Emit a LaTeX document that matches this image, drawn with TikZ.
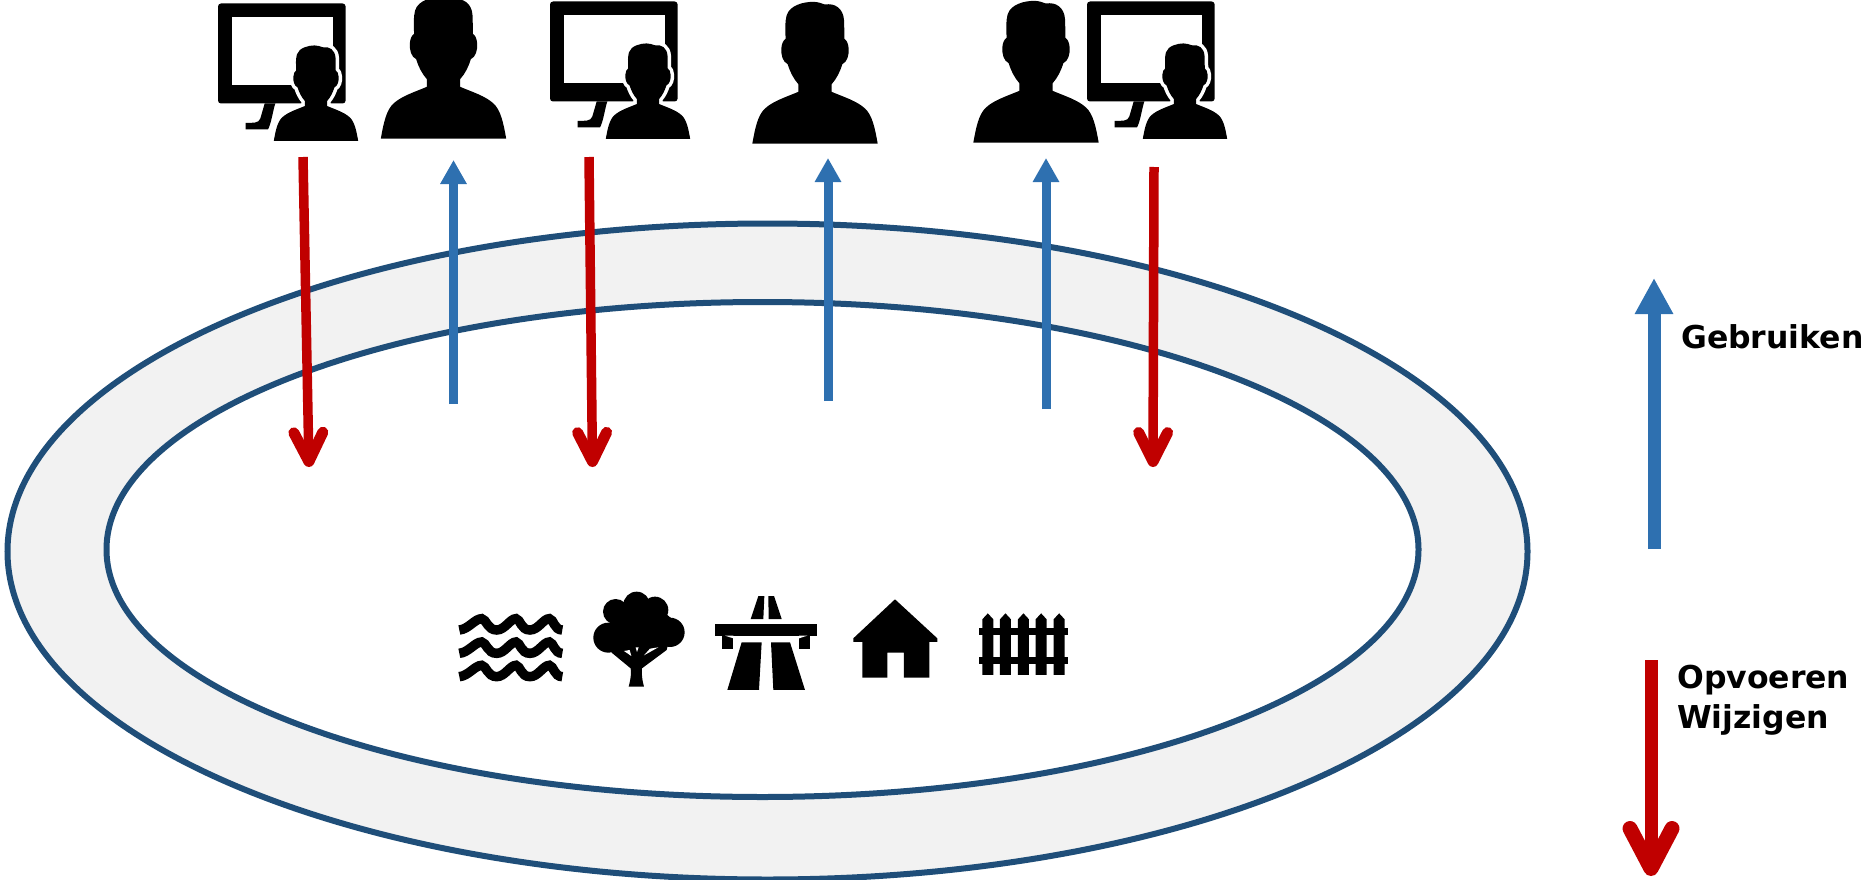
\documentclass[tikz,border=0pt]{standalone}
\usepackage{fontspec}
\setmainfont{DejaVu Sans}
\usetikzlibrary{arrows.meta}
\definecolor{ringline}{HTML}{1F4E79}
\definecolor{ringfill}{HTML}{F2F2F2}
\definecolor{usearrow}{HTML}{2E70B0}
\definecolor{editarrow}{HTML}{C00000}
\newcommand\personshape{(-188,0) .. controls (-180,-45) and (-172,-85) .. (-150,-105)
      .. controls (-125,-128) and (-85,-140) .. (-50,-155) -- (-50,-178)
      .. controls (-65,-195) and (-75,-215) .. (-82,-238)
      .. controls (-97,-245) and (-102,-265) .. (-101,-285)
      .. controls (-100,-300) and (-95,-310) .. (-88,-314)
      .. controls (-90,-345) and (-90,-365) .. (-85,-385)
      .. controls (-75,-415) and (-35,-425) .. (-5,-425)
      .. controls (10,-425) and (20,-420) .. (30,-417)
      .. controls (60,-422) and (85,-405) .. (87,-370)
      .. controls (88,-350) and (88,-330) .. (88,-314)
      .. controls (95,-310) and (100,-300) .. (101,-285)
      .. controls (102,-265) and (97,-245) .. (82,-238)
      .. controls (75,-215) and (65,-195) .. (50,-178) -- (50,-155)
      .. controls (85,-140) and (125,-128) .. (150,-105)
      .. controls (172,-85) and (180,-45) .. (188,0) -- cycle}
\tikzset{
  ring/.style={draw=ringline,line width=6pt},
  usearr/.style={draw=usearrow,line width=9pt,-{Triangle[length=24pt,width=25pt]}},
  editarr/.style={draw=editarrow,line width=9.5pt,-{Straight Barb[round,length=29pt,width=29pt,line width=11pt]}},
  legendtext/.style={font=\bfseries\fontsize{31.5}{40}\selectfont,inner sep=0pt,anchor=base west,align=left},
  icon/.style={x=0.3333pt,y=-0.3333pt},
  person/.pic={
    \fill[black] \personshape;
  },
  screenuser/.pic={
    \fill[black,rounded corners=3pt] (0,0) rectangle (383,300);
    \fill[white] (42,42) rectangle (345,245);
    \fill[black] (140,300) -- (172,300) .. controls (165,320) and (160,360) .. (150,378)
      -- (83,378) -- (83,358) .. controls (105,358) and (122,360) .. (127,345) -- cycle;
    \begin{scope}[shift={(294,412)},x=0.6733*0.3333pt,y=-0.6733*0.3333pt]
      \filldraw[draw=white,fill=black,line width=7pt,line join=round] \personshape;
      \fill[black] \personshape;
    \end{scope}
  }
}
\begin{document}
\begin{tikzpicture}[x=1pt,y=-1pt]
\useasboundingbox (0,0) rectangle (1862,880);
\clip (0,0) rectangle (1862,880);
% ring
\draw[ring,fill=ringfill] (767.5,551.5) ellipse [x radius=760,y radius=328];
\draw[ring,fill=white] (762.5,549.5) ellipse [x radius=656,y radius=247.5];
% users
\begin{scope}[shift={(218,3.5)},icon] \path pic {screenuser}; \end{scope}
\begin{scope}[shift={(550,1.5)},icon] \path pic {screenuser}; \end{scope}
\begin{scope}[shift={(1087,1.5)},icon] \path pic {screenuser}; \end{scope}
\begin{scope}[shift={(443.5,138.5)},icon] \path pic {person}; \end{scope}
\begin{scope}[shift={(815,143.5)},icon] \path pic {person}; \end{scope}
\begin{scope}[shift={(1036,142.5)},icon] \path pic {person}; \end{scope}
% connector ends
\coordinate (r1a) at (303,157); \coordinate (r1b) at (309,467);
\coordinate (r2a) at (589,157); \coordinate (r2b) at (592.5,467);
\coordinate (r3a) at (1154,167); \coordinate (r3b) at (1153,467);
\coordinate (b1a) at (453.5,404); \coordinate (b1b) at (453.5,160);
\coordinate (b2a) at (828,401); \coordinate (b2b) at (828,158);
\coordinate (b3a) at (1046,409); \coordinate (b3b) at (1046,158);
\coordinate (lba) at (1654,549); \coordinate (lbb) at (1654,278);
\coordinate (lra) at (1651,660); \coordinate (lrb) at (1651,876);
\draw[editarr] (r1a) -- (r1b);
\draw[editarr] (r2a) -- (r2b);
\draw[editarr] (r3a) -- (r3b);
\draw[usearr] (b1a) -- (b1b);
\draw[usearr] (b2a) -- (b2b);
\draw[usearr] (b3a) -- (b3b);
\draw[usearr,line width=13pt,-{Triangle[length=36pt,width=36pt]}] (lba) -- (lbb);
\draw[editarr,line width=13pt,-{Straight Barb[round,length=40pt,width=42pt,line width=15pt]}] (lra) -- (lrb);
% legend
\node[legendtext] (tuse) at (1681,348) {Gebruiken};
\node[legendtext] (tedit) at (1677,728) {Opvoeren\\Wijzigen};
% water
\begin{scope}[shift={(440,570)},icon]
  \foreach \dy in {0,70,140}{
    \begin{scope}[yshift=-\dy*0.3333pt]
    \draw[black,line width=9.5pt] (58,180) .. controls (85,178) and (105,146) .. (125,146)
      .. controls (140,148) and (142,180) .. (170,180)
      .. controls (195,180) and (210,146) .. (228,146)
      .. controls (242,148) and (242,180) .. (270,180)
      .. controls (295,180) and (310,146) .. (328,146)
      .. controls (342,148) and (342,180) .. (367,180);
    \end{scope}
  }
  % tree
  \fill[black] (505,203) circle [radius=45];
  \fill[black] (527,125) circle [radius=38];
  \fill[black] (590,105) circle [radius=40];
  \fill[black] (645,120) circle [radius=40];
  \fill[black] (690,187) circle [radius=44];
  \fill[black] (510,165) -- (560,100) -- (640,100) -- (700,150) -- (690,225) -- (520,235) -- cycle;
  \fill[black] (566,350) -- (612,350) .. controls (605,325) and (605,305) .. (606,295) -- (680,240) -- (690,200) -- (520,200) -- (515,248) -- (572,295) .. controls (574,305) and (573,325) .. (566,350) -- cycle;
  \fill[white] (574,258) -- (569,240) -- (552,243) -- cycle;
  \fill[white] (591,246) -- (587,232) -- (596,232) -- cycle;
  \fill[white] (612,256) -- (630,236) -- (655,232) -- cycle;
\end{scope}
\begin{scope}[shift={(700,570)},icon]
  % motorway
  \fill[black] (175,78) -- (193,78) -- (190,147) -- (152,147) -- cycle;
  \fill[black] (205,78) -- (222,78) -- (245,147) -- (206,147) -- cycle;
  \fill[black] (46,162) rectangle (350,197);
  \fill[black] (67,197) rectangle (100,236);
  \fill[black] (297,197) rectangle (330,236);
  \fill[white] (75,197) -- (100,197) -- (100,205) -- cycle;
  \fill[white] (297,197) -- (322,197) -- (297,205) -- cycle;
  \fill[black] (125,217) -- (185,217) -- (177,360) -- (82,360) -- cycle;
  \fill[black] (213,217) -- (270,217) -- (315,360) -- (220,360) -- cycle;
  % house
  \fill[black] (585,88) -- (712,205) -- (712,216) -- (688,216) -- (688,323) -- (612,323) -- (612,248) -- (562,248) -- (562,323) -- (487,323) -- (487,216) -- (460,216) -- (460,205) -- cycle;
  % fence
  \foreach \px in {847,900,954,1007,1061}{
    \fill[black] (\px,315) -- (\px,148) -- (\px+16.5,130) -- (\px+33,148) -- (\px+33,315) -- cycle;
  }
  \fill[black] (836,175) rectangle (1105,195);
  \fill[black] (836,262) rectangle (1105,282);
\end{scope}
\end{tikzpicture}
\end{document}
